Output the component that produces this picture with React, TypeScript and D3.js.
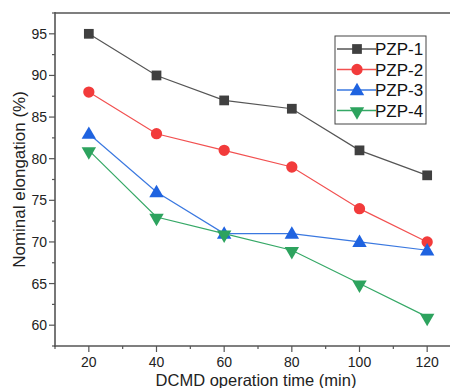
import React from "react";
import * as d3 from "d3";

const times = [20, 40, 60, 80, 100, 120];
const seriesNames = ["PZP-1", "PZP-2", "PZP-3", "PZP-4"];
const pzp1 = [95, 90, 87, 86, 81, 78];
const pzp2 = [88, 83, 81, 79, 74, 70];
const pzp3 = [83, 76, 71, 71, 70, 69];
const pzp4 = [81, 73, 71, 69, 65, 61];
const xTicks = [20, 40, 60, 80, 100, 120];
const yTicks = [60, 65, 70, 75, 80, 85, 90, 95];

const colors = ["#404040", "#f23b3b", "#1f63e0", "#2da35e"];
const lineColors = ["#555555", "#f25050", "#3a78e0", "#35a866"];
const symbols = [d3.symbolSquare, d3.symbolCircle, d3.symbolTriangle, d3.symbolTriangle];
const rotations = [0, 0, 0, 180];

const W = 450;
const H = 388;
const font = "'Liberation Sans', Arial, sans-serif";

const App: React.FC = () => {
  const x = d3.scaleLinear().domain([10, 130]).range([55, 461]);
  const y = d3.scaleLinear().domain([57.5, 97.5]).range([346, 13]);
  const all = [pzp1, pzp2, pzp3, pzp4];

  const line = d3
    .line<number>()
    .x((_, i) => x(times[i]))
    .y((d) => y(d));

  const symSizes = [95, 100, 90, 90];
  const axisColor = "#555";

  const minorX = d3.range(10, 131, 10).filter((v) => v % 20 !== 0);
  const minorY = d3.range(57.5, 98, 5);

  return (
    <svg width={W} height={H} style={{ position: "absolute", left: 0, top: 0 }}>
      <rect width={W} height={H} fill="#fff" />
      {/* series */}
      {all.map((vals, s) => (
        <g key={seriesNames[s]}>
          <path d={line(vals) || ""} fill="none" stroke={lineColors[s]} strokeWidth={1.2} />
          {vals.map((v, i) => (
            <path
              key={i}
              d={d3.symbol().type(symbols[s]).size(symSizes[s])() || ""}
              transform={`translate(${x(times[i])},${y(v) + (s >= 2 ? 1 : 0)}) rotate(${rotations[s]})`}
              fill={colors[s]}
            />
          ))}
        </g>
      ))}

      {/* frame */}
      <line x1={55} x2={W} y1={13} y2={13} stroke={axisColor} strokeWidth={1.6} />
      <line x1={55} x2={55} y1={12} y2={347} stroke={axisColor} strokeWidth={1.6} />
      <line x1={54} x2={W} y1={346} y2={346} stroke={axisColor} strokeWidth={1.6} />

      {/* x ticks */}
      {xTicks.map((t) => (
        <g key={t}>
          <line x1={x(t)} x2={x(t)} y1={346} y2={352} stroke={axisColor} strokeWidth={1.2} />
          <text x={x(t)} y={367} textAnchor="middle" fontFamily={font} fontSize={14} fill="#222">
            {t}
          </text>
        </g>
      ))}
      {minorX.map((t) => (
        <line key={t} x1={x(t)} x2={x(t)} y1={346} y2={349} stroke={axisColor} strokeWidth={1.2} />
      ))}

      {/* y ticks */}
      {yTicks.map((t) => (
        <g key={t}>
          <line x1={49} x2={55} y1={y(t)} y2={y(t)} stroke={axisColor} strokeWidth={1.2} />
          <text x={47} y={y(t) + 5} textAnchor="end" fontFamily={font} fontSize={14} fill="#222">
            {t}
          </text>
        </g>
      ))}
      {minorY.map((t) => (
        <line key={t} x1={52} x2={55} y1={y(t)} y2={y(t)} stroke={axisColor} strokeWidth={1.2} />
      ))}

      {/* axis titles */}
      <text x={256} y={386} textAnchor="middle" fontFamily={font} fontSize={16.5} fill="#222">
        DCMD operation time (min)
      </text>
      <text
        transform={`translate(25,${y(77.5)}) rotate(-90)`}
        textAnchor="middle"
        fontFamily={font}
        fontSize={17}
        fill="#222"
      >
        Nominal elongation (%)
      </text>

      {/* legend */}
      <rect x={335} y={36} width={91} height={88} fill="#fff" stroke="#444" strokeWidth={1} />
      {seriesNames.map((n, s) => {
        const ly = 49 + s * 20.5;
        return (
          <g key={n}>
            <line x1={337} x2={376} y1={ly} y2={ly} stroke={lineColors[s]} strokeWidth={1.4} />
            <path
              d={d3.symbol().type(symbols[s]).size(symSizes[s])() || ""}
              transform={`translate(357,${ly + (s >= 2 ? 1 : 0)}) rotate(${rotations[s]})`}
              fill={colors[s]}
            />
            <text x={375} y={ly + 6} fontFamily={font} fontSize={17} fill="#111">
              {n}
            </text>
          </g>
        );
      })}
    </svg>
  );
};

export default App;
